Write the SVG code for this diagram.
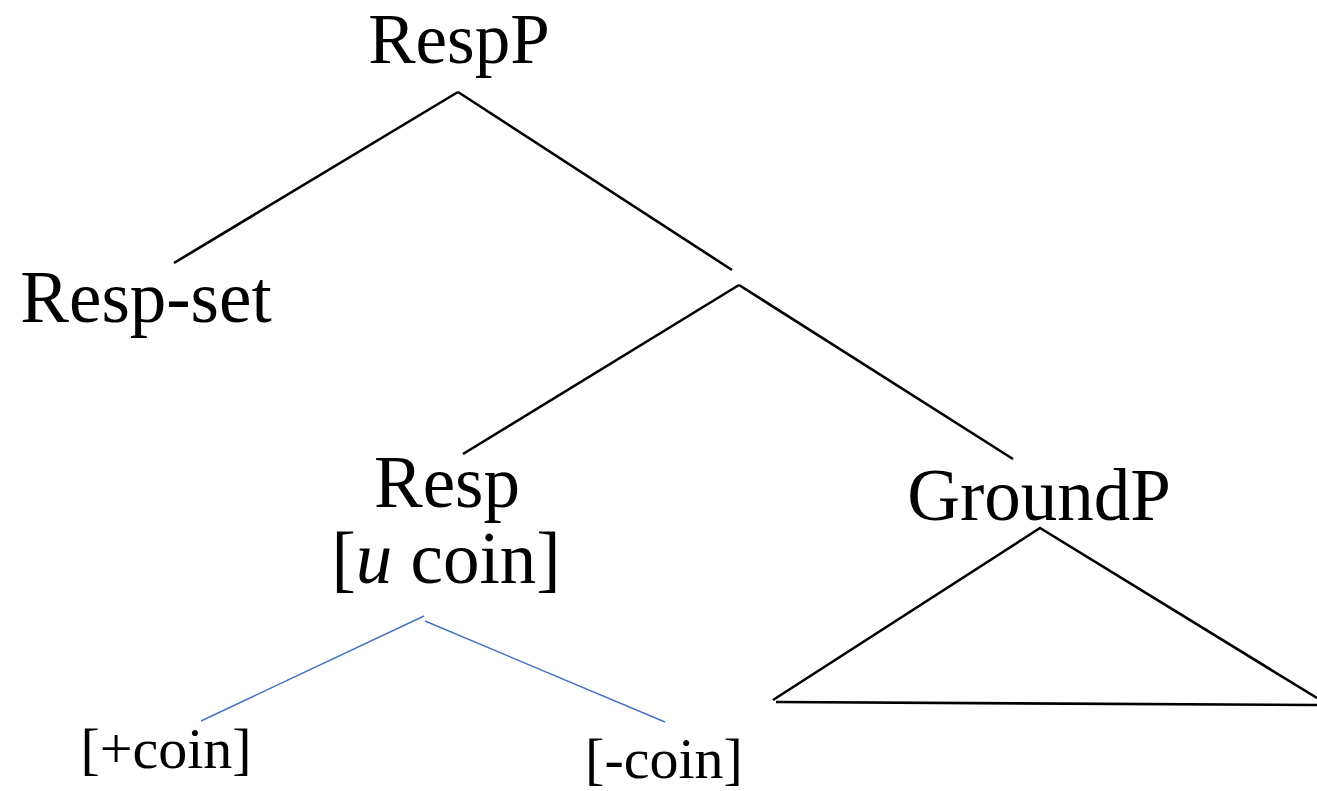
<svg xmlns="http://www.w3.org/2000/svg" width="1317" height="791" viewBox="0 0 1317 791">
<style>
.t{font-family:"Liberation Serif","Times New Roman",serif;fill:#000;text-anchor:middle}
.big{font-size:73px}
.sm{font-size:58px}
.k{stroke:#000;stroke-width:2.6;fill:none;stroke-linecap:butt}
.b{stroke:#4472C4;stroke-width:1.4;fill:none}
</style>
<rect width="1317" height="791" fill="#fff"/>
<g id="connectors">
<line class="k" x1="458" y1="92" x2="174" y2="263"/>
<line class="k" x1="458" y1="92" x2="732" y2="270"/>
<line class="k" x1="739" y1="285" x2="463" y2="454"/>
<line class="k" x1="739" y1="285" x2="1013" y2="459"/>
<line class="b" x1="424" y1="616" x2="201" y2="721"/>
<line class="b" x1="425" y1="621" x2="665" y2="722"/>
</g>
<g id="triangle">
<polyline class="k" points="773,700 1040,528 1317,698"/>
<line class="k" x1="776" y1="702" x2="1317" y2="705" stroke-width="3"/>
</g>
<g id="RespP"><text class="t" font-size="71" x="459" y="63">RespP</text></g>
<g id="Resp-set"><text class="t big" x="146" y="322">Resp-set</text></g>
<g id="Resp"><text class="t big" x="447" y="507">Resp</text><text class="t big" x="446" y="583">[<tspan font-style="italic">u</tspan> coin]</text></g>
<g id="GroundP"><text class="t big" x="1039" y="520">GroundP</text></g>
<g id="plus-coin"><text class="t sm" x="166" y="768">[+coin]</text></g>
<g id="minus-coin"><text class="t sm" x="664" y="778">[-coin]</text></g>
</svg>
